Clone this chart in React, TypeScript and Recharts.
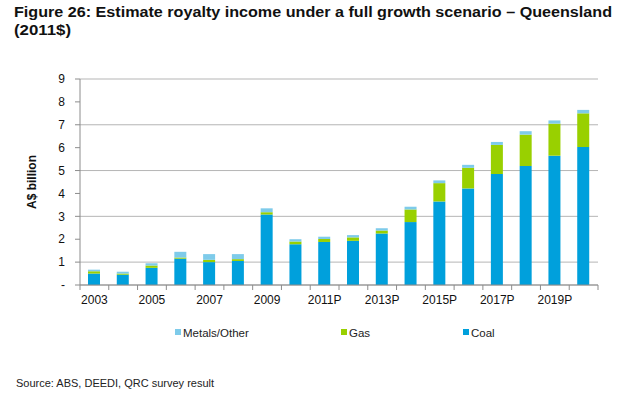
import { Bar, BarChart, CartesianGrid, XAxis, YAxis } from "recharts"

const years = [
  "2003", "2004", "2005", "2006", "2007", "2008", "2009", "2010", "2011P",
  "2012P", "2013P", "2014P", "2015P", "2016P", "2017P", "2018P", "2019P", "2020P",
]
const coal = [0.5, 0.45, 0.75, 1.15, 1.0, 1.05, 3.08, 1.78, 1.88, 1.93, 2.25, 2.75, 3.65, 4.22, 4.85, 5.2, 5.65, 6.03]
const gas = [0.1, 0.05, 0.1, 0.05, 0.1, 0.08, 0.1, 0.12, 0.13, 0.15, 0.13, 0.55, 0.8, 0.9, 1.27, 1.37, 1.4, 1.47]
const metals = [0.07, 0.08, 0.1, 0.25, 0.25, 0.22, 0.17, 0.1, 0.1, 0.1, 0.1, 0.12, 0.12, 0.13, 0.13, 0.15, 0.14, 0.15]
const yTicks = [0, 1, 2, 3, 4, 5, 6, 7, 8, 9]

const COAL = "#00A0DC"
const GAS = "#99D000"
const METALS = "#7ECBEA"
const FONT = "'Liberation Sans', Arial, sans-serif"

const W = 639
const H = 394
const margin = { top: 79, right: 41, bottom: 79, left: 50 }
const plotW = W - 80 - margin.right

const data = years.map((year, i) => ({ year, coal: coal[i], gas: gas[i], metals: metals[i] }))

// category ticks sit on the boundaries, labels on every other year
function YearTick(props: any) {
  const { x, y, payload } = props
  const i = years.indexOf(payload.value)
  const step = plotW / years.length
  return (
    <g>
      <line x1={x - step / 2} x2={x - step / 2} y1={y} y2={y + 5} stroke="#8c8c8c" />
      {i === years.length - 1 && <line x1={x + step / 2} x2={x + step / 2} y1={y} y2={y + 5} stroke="#8c8c8c" />}
      {i % 2 === 0 && (
        <text x={x} y={y + 19} textAnchor="middle" fontSize={12} fill="#111" fontFamily={FONT}>
          {payload.value}
        </text>
      )}
    </g>
  )
}

const legendItems = [
  { name: "Metals/Other", color: METALS, x: 175 },
  { name: "Gas", color: GAS, x: 341 },
  { name: "Coal", color: COAL, x: 463 },
]

export default function App() {
  return (
    <div style={{ position: "absolute", left: 0, top: 0, width: W, height: H, background: "#fff" }}>
      <svg width={W} height={H} style={{ position: "absolute", left: 0, top: 0 }}>
        <text x={14} y={17} fontSize={14} fontWeight="bold" fontFamily={FONT} textLength={598} lengthAdjust="spacingAndGlyphs" fill="#111">
          Figure 26: Estimate royalty income under a full growth scenario – Queensland
        </text>
        <text x={14} y={35} fontSize={14} fontWeight="bold" fontFamily={FONT} textLength={57} lengthAdjust="spacingAndGlyphs" fill="#111">
          (2011$)
        </text>
        <text transform="translate(36,182) rotate(-90)" textAnchor="middle" fontSize={12} fontWeight="bold" fontFamily={FONT} fill="#111">
          A$ billion
        </text>
        {legendItems.map((it) => (
          <g key={it.name}>
            <rect x={it.x} y={329} width={6} height={6} fill={it.color} />
            <text x={it.x + 8} y={337} fontSize={11.5} fontFamily={FONT} fill="#222">
              {it.name}
            </text>
          </g>
        ))}
        <text x={16} y={387} fontSize={11} fontFamily={FONT} fill="#222">
          Source: ABS, DEEDI, QRC survey result
        </text>
      </svg>
      <div style={{ position: "absolute", left: 0, top: 0 }}>
        <BarChart width={W} height={H} data={data} margin={margin} barSize={12}>
          <CartesianGrid vertical={false} stroke="#b5b5b5" />
          <XAxis
            dataKey="year"
            interval={0}
            tickLine={false}
            tickSize={0}
            tickMargin={0}
            height={30}
            stroke="#8c8c8c"
            tick={<YearTick />}
          />
          <YAxis
            domain={[0, 9]}
            ticks={yTicks}
            width={30}
            tickSize={5}
            tickMargin={10}
            stroke="#8c8c8c"
            tick={{ fontSize: 12, fill: "#111", fontFamily: FONT }}
            tickFormatter={(v: number) => (v === 0 ? "-" : String(v))}
          />
          <Bar dataKey="coal" stackId="a" fill={COAL} isAnimationActive={false} />
          <Bar dataKey="gas" stackId="a" fill={GAS} isAnimationActive={false} />
          <Bar dataKey="metals" stackId="a" fill={METALS} isAnimationActive={false} />
        </BarChart>
      </div>
    </div>
  )
}
